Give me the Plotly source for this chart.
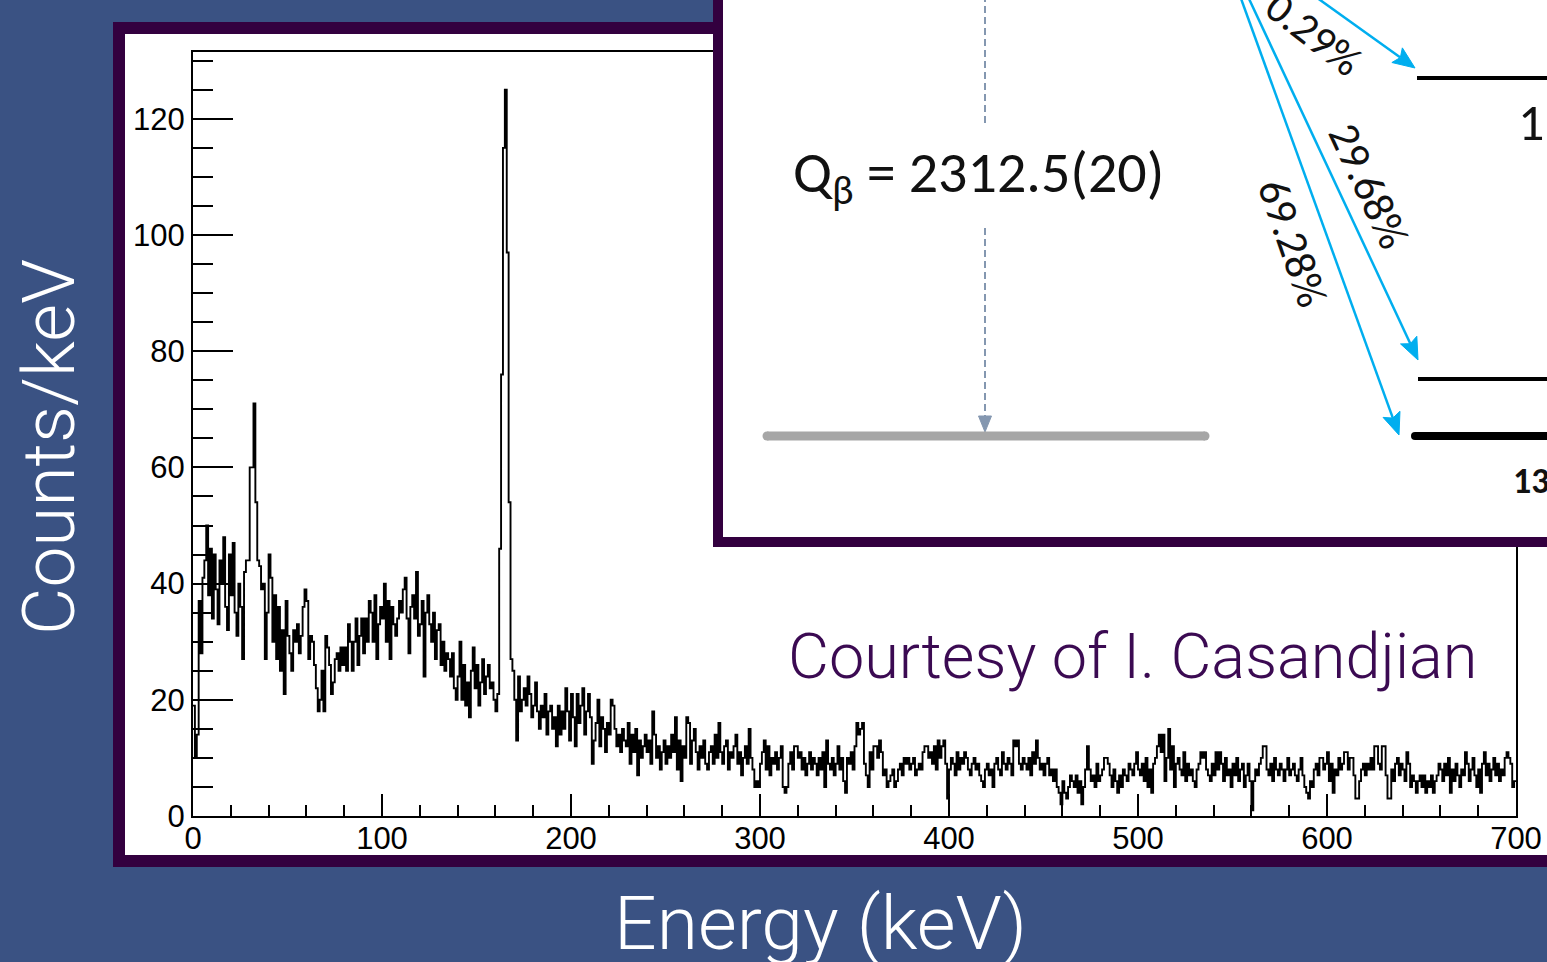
import plotly.graph_objects as go

# ---------------- data (counts per keV, 1 keV bins, 0-700 keV) ----------------
energy_edges = list(range(0, 701))
counts = [
    19, 10, 14, 37, 28, 41, 44, 50, 38, 46, 34, 45, 39, 33, 44, 40, 48, 36, 32, 45,
    38, 47, 35, 31, 40, 36, 27, 42, 44, 44, 60, 60, 71, 54, 44, 43, 39, 40, 27, 35,
    45, 41, 30, 38, 27, 36, 25, 32, 21, 37, 31, 28, 25, 32, 30, 33, 28, 31, 36, 39,
    37, 27, 31, 30, 26, 22, 18, 20, 25, 18, 31, 29, 26, 21, 23, 27, 28, 25, 29, 26,
    29, 25, 33, 30, 25, 30, 34, 26, 31, 34, 28, 34, 30, 37, 35, 30, 38, 27, 33, 36,
    34, 40, 30, 37, 27, 36, 33, 31, 34, 37, 35, 39, 41, 34, 28, 36, 38, 34, 42, 31,
    33, 37, 24, 35, 38, 33, 30, 35, 27, 32, 33, 26, 30, 25, 28, 27, 24, 28, 22, 20,
    24, 30, 20, 26, 19, 23, 17, 25, 29, 22, 26, 19, 23, 27, 21, 24, 26, 22, 23, 20,
    18, 21, 46, 76, 115, 125, 97, 54, 27, 25, 20, 13, 24, 18, 20, 22, 19, 24, 21, 17,
    19, 23, 18, 15, 19, 17, 21, 14, 18, 19, 15, 17, 12, 19, 14, 18, 15, 22, 18, 13,
    21, 17, 12, 21, 16, 19, 22, 14, 18, 21, 17, 9, 13, 16, 20, 12, 17, 15, 11, 16,
    14, 20, 19, 15, 12, 14, 11, 15, 13, 12, 16, 9, 14, 11, 15, 7, 13, 10, 12, 14,
    11, 13, 9, 18, 14, 10, 12, 8, 11, 13, 9, 12, 10, 14, 11, 17, 8, 13, 6, 12,
    10, 17, 16, 9, 13, 15, 11, 8, 12, 10, 13, 9, 8, 11, 12, 9, 14, 10, 16, 11,
    9, 12, 13, 8, 11, 10, 12, 14, 9, 11, 7, 10, 12, 9, 15, 10, 8, 5, 6, 5,
    9, 11, 13, 8, 12, 7, 10, 9, 11, 8, 10, 12, 5, 4, 5, 9, 11, 8, 12, 12,
    10, 11, 8, 10, 7, 9, 11, 8, 10, 9, 7, 10, 8, 11, 5, 13, 9, 8, 10, 7,
    9, 12, 8, 10, 6, 4, 10, 9, 11, 8, 12, 16, 14, 15, 16, 9, 7, 5, 11, 8,
    12, 12, 10, 13, 11, 7, 8, 5, 6, 7, 8, 5, 6, 8, 9, 7, 10, 9, 10, 8,
    9, 10, 7, 8, 9, 8, 11, 12, 12, 10, 11, 9, 12, 8, 13, 10, 12, 13, 9, 3,
    8, 10, 9, 7, 11, 8, 10, 9, 11, 10, 8, 7, 9, 10, 8, 9, 7, 6, 5, 8,
    9, 7, 8, 5, 9, 10, 8, 7, 11, 9, 8, 10, 9, 7, 13, 12, 13, 9, 8, 10,
    9, 8, 10, 7, 11, 9, 13, 10, 8, 9, 7, 9, 10, 7, 8, 6, 8, 5, 4, 2,
    6, 4, 3, 5, 7, 6, 5, 7, 4, 6, 2, 5, 8, 12, 8, 6, 7, 5, 9, 6,
    7, 8, 10, 10, 9, 7, 5, 8, 6, 4, 7, 5, 8, 7, 6, 9, 8, 7, 9, 11,
    8, 7, 9, 6, 10, 5, 8, 4, 9, 10, 12, 14, 11, 14, 6, 10, 15, 8, 12, 5,
    9, 10, 8, 7, 11, 6, 9, 7, 8, 6, 5, 8, 9, 11, 10, 11, 8, 7, 6, 9,
    7, 11, 8, 11, 9, 6, 10, 7, 8, 5, 9, 7, 10, 6, 8, 9, 5, 7, 9, 6,
    1, 6, 8, 7, 9, 10, 12, 12, 8, 7, 9, 6, 10, 8, 7, 9, 8, 6, 8, 10,
    7, 8, 9, 7, 6, 8, 10, 7, 5, 4, 3, 6, 5, 8, 9, 7, 10, 10, 8, 9,
    11, 6, 9, 4, 8, 7, 10, 8, 9, 11, 11, 8, 10, 10, 7, 3, 3, 6, 8, 9,
    7, 9, 8, 10, 8, 12, 12, 9, 8, 12, 12, 7, 3, 3, 8, 6, 9, 10, 7, 9,
    8, 6, 11, 9, 5, 7, 6, 4, 6, 7, 5, 7, 4, 6, 5, 7, 4, 6, 7, 9,
    8, 6, 9, 7, 10, 4, 8, 6, 9, 7, 5, 8, 7, 11, 9, 6, 8, 10, 7, 5,
    8, 4, 9, 11, 7, 9, 6, 8, 10, 7, 9, 6, 8, 7, 10, 11, 10, 9, 5, 6,
]
x_ticks = [0, 100, 200, 300, 400, 500, 600, 700]
y_ticks = [0, 20, 40, 60, 80, 100, 120]

# decay-scheme inset texts
branch_labels = ["0.29%", "29.68%", "69.28%"]
q_label = "Q<sub>β</sub> = 2312.5(20)"
credit = "Courtesy of I. Casandjian"
x_title = "Energy (keV)"
y_title = "Counts/keV"

# ---------------- layout geometry / styles ----------------
W, H = 1547, 962
PL, PR, PT, PB = 193, 1516, 52, 816   # plot-area pixel box
BG = "#3A5283"
PURPLE = "#33003F"
BLUE = "#00AEEF"
GRAYBLUE = "#8497B0"
LIGHT_FONT = "Roboto"


def px(x):
    return (x - PL) / (PR - PL)


def py(y):
    return (PB - y) / (PB - PT)


fig = go.Figure()
fig.add_trace(go.Scatter(
    x=energy_edges, y=counts + [counts[-1]], mode="lines",
    line=dict(shape="hv", color="black", width=1.9),
    hoverinfo="skip", showlegend=False))

shapes = []


def rect(x0, y0, x1, y1, color, layer):
    shapes.append(dict(type="rect", xref="paper", yref="paper",
                       x0=px(x0), x1=px(x1), y0=py(y1), y1=py(y0),
                       fillcolor=color, line=dict(width=0), layer=layer))


def seg(x0, y0, x1, y1, color, width, dash="solid"):
    shapes.append(dict(type="line", xref="paper", yref="paper",
                       x0=px(x0), x1=px(x1), y0=py(y0), y1=py(y1),
                       line=dict(color=color, width=width, dash=dash), layer="above"))


def poly(pts, color):
    d = "M " + " L ".join(f"{px(a):.5f},{py(b):.5f}" for a, b in pts) + " Z"
    shapes.append(dict(type="path", xref="paper", yref="paper", path=d,
                       fillcolor=color, line=dict(color=color, width=1), layer="above"))


def disc(cx, cy, r, color):
    shapes.append(dict(type="circle", xref="paper", yref="paper",
                       x0=px(cx - r), x1=px(cx + r), y0=py(cy + r), y1=py(cy - r),
                       fillcolor=color, line=dict(width=0), layer="above"))


# main white panel with purple frame
rect(113, 22, 1600, 867, PURPLE, "below")
rect(125, 34, 1600, 855, "white", "below")

# inset panel (decay scheme)
rect(713, -40, 1600, 547, PURPLE, "above")
rect(723, -40, 1600, 537, "white", "above")

# Q-beta dashed arrow and ground bar
seg(985, -5, 985, 127, GRAYBLUE, 2, "7px,4px")
seg(985, 228, 985, 418, GRAYBLUE, 2, "7px,4px")
poly([(985, 432), (978.5, 416), (991.5, 416)], GRAYBLUE)
seg(767, 436, 1205, 436, "#A6A6A6", 9)
disc(767, 436, 4.5, "#A6A6A6")
disc(1205, 436, 4.5, "#A6A6A6")

# level lines
seg(1417, 78, 1600, 78, "black", 4)
seg(1418, 379, 1600, 379, "black", 4)
seg(1415, 436, 1600, 436, "black", 8)
disc(1415, 436, 4, "black")

# beta branches
origin = (1214, -76)
tips = [(1415, 68), (1418, 360), (1399, 435)]
for tx, ty in tips:
    dx, dy = tx - origin[0], ty - origin[1]
    n = (dx * dx + dy * dy) ** 0.5
    ux, uy = dx / n, dy / n
    Lh, Wh, notch = 22, 9, 4
    bx, by = tx - Lh * ux, ty - Lh * uy
    seg(origin[0], origin[1], bx + notch * ux, by + notch * uy, BLUE, 2.5)
    poly([(tx, ty), (bx - Wh * uy, by + Wh * ux),
          (bx + notch * ux, by + notch * uy), (bx + Wh * uy, by - Wh * ux)], BLUE)

annotations = []


def text(x, y, s, size, color, family, angle=0, xanchor="center", weight=None):
    f = dict(size=size, color=color, family=family)
    if weight:
        f["weight"] = weight
    annotations.append(dict(xref="paper", yref="paper", x=px(x), y=py(y), text=s,
                            showarrow=False, font=f, textangle=angle,
                            xanchor=xanchor, yanchor="middle"))


CAL = "Carlito, Lato, sans-serif"
text(978, 176, q_label, 58, "#111111", CAL)
text(1313, 34, branch_labels[0], 43, "#111111", CAL, angle=38)
text(1369, 186, branch_labels[1], 44, "#111111", CAL, angle=65)
text(1293, 243, branch_labels[2], 44, "#111111", CAL, angle=71)
text(1516, 122, "1", 52, "#111111", CAL, xanchor="left")
text(1511, 481, "13", 36, "#111111", CAL, xanchor="left", weight=700)

text(1132, 656, credit, 63, "#3B0A52", LIGHT_FONT, weight=300)
text(820, 923, x_title, 75, "white", LIGHT_FONT, weight=300)
text(49, 447, y_title, 73, "white", LIGHT_FONT, angle=-90, weight=300)

axis_common = dict(showline=True, linecolor="black", linewidth=2, mirror=True,
                   ticks="inside", tickcolor="black", tickwidth=2,
                   showgrid=False, zeroline=False, automargin=False,
                   ticklabeloverflow="allow",
                   tickfont=dict(family="Liberation Sans, Arial", size=31, color="black"))

fig.update_layout(
    width=W, height=H,
    margin=dict(l=PL, r=W - PR, t=PT, b=H - PB, pad=0, autoexpand=False),
    paper_bgcolor=BG, plot_bgcolor="white",
    xaxis=dict(range=[0, 700], tickvals=x_ticks, ticklen=22,
               minor=dict(dtick=20, ticklen=11, ticks="inside", tickcolor="black", tickwidth=2),
               ticklabelstandoff=-6,
               **axis_common),
    yaxis=dict(range=[0, 131.5], tickvals=y_ticks, ticklen=40,
               minor=dict(dtick=5, ticklen=20, ticks="inside", tickcolor="black", tickwidth=2),
               **axis_common),
    shapes=shapes, annotations=annotations, showlegend=False,
)

fig.write_html("out.html")
